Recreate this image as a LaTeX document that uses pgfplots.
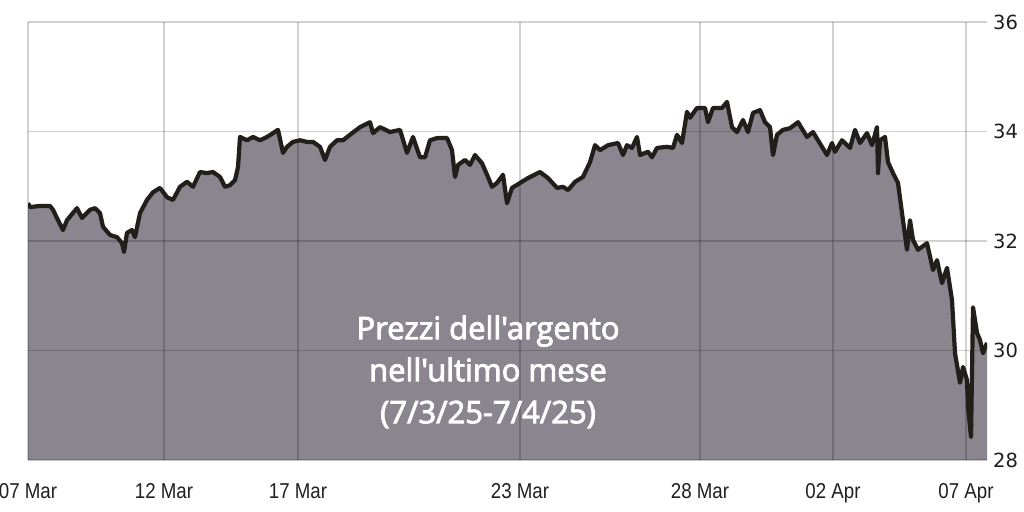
\documentclass[border=0pt]{standalone}
\usepackage{pgfplots}
\pgfplotsset{compat=1.18}
\usepackage{pgfplotstable}
\usepackage{fontspec}
\setmainfont{Liberation Sans}
\newfontfamily\tickfont[FakeStretch=0.87]{Liberation Sans}
\newfontfamily\yfont{DejaVu Sans}
\newfontfamily\notefont{Open Sans}
\newcommand{\heavy}[1]{\special{pdf:literal 2 Tr 0.9 w 1 1 1 RG}#1\special{pdf:literal 0 Tr}}
\definecolor{areac}{HTML}{8A858E}
\definecolor{linec}{HTML}{221E1A}
\pgfplotsset{
  layers/mylayers/.define layer set={axis background,pre main,axis grid,main,axis ticks,axis lines,axis tick labels,axis descriptions,axis foreground}{},
}
\pgfplotstableread{
x p
28 32.69
30 32.62
40 32.64
50 32.64
53 32.57
58 32.38
63 32.20
67 32.38
77 32.60
82 32.42
90 32.57
95 32.60
100 32.51
103 32.26
110 32.11
117 32.07
122 31.96
124 31.80
127 32.15
132 32.20
135 32.07
140 32.51
147 32.75
153 32.89
160 32.97
167 32.80
173 32.75
180 32.99
187 33.08
193 32.99
200 33.26
207 33.24
213 33.26
220 33.17
225 32.99
230 33.02
235 33.11
238 33.35
240 33.90
247 33.84
253 33.90
260 33.84
267 33.90
273 33.97
278 34.03
283 33.61
287 33.72
293 33.81
300 33.84
307 33.81
313 33.81
320 33.72
325 33.48
330 33.72
337 33.84
343 33.84
350 33.94
360 34.08
370 34.17
373 33.97
380 34.08
390 33.99
400 34.03
407 33.61
413 33.90
420 33.53
425 33.53
430 33.84
437 33.88
447 33.88
452 33.66
455 33.17
458 33.39
465 33.48
470 33.39
475 33.57
482 33.42
488 33.17
492 32.99
497 33.06
503 33.21
507 32.69
512 32.97
520 33.06
528 33.15
540 33.26
548 33.15
557 32.97
563 32.99
568 32.93
575 33.08
583 33.17
590 33.44
595 33.75
600 33.66
608 33.75
618 33.79
623 33.57
627 33.75
632 33.70
637 33.90
640 33.57
648 33.63
652 33.53
657 33.70
667 33.72
673 33.70
677 33.94
682 33.79
687 34.36
690 34.25
697 34.43
705 34.43
708 34.17
713 34.43
722 34.43
727 34.54
732 34.08
737 33.99
743 34.21
748 33.99
753 34.34
760 34.39
765 34.17
770 34.08
773 33.57
777 33.94
783 34.03
790 34.06
798 34.17
807 33.90
813 33.99
822 33.72
827 33.57
832 33.79
835 33.63
842 33.84
850 33.70
855 34.03
860 33.79
867 33.97
872 33.75
877 34.08
878 33.24
880 33.84
885 33.90
888 33.44
893 33.24
898 33.06
902 32.51
907 31.84
910 32.38
913 32.02
918 31.84
927 31.96
933 31.47
937 31.65
942 31.23
947 31.51
952 30.92
955 29.95
960 29.41
963 29.70
967 29.46
968 28.97
971 28.42
973 30.79
977 30.32
980 30.19
983 29.95
987 30.14
}\silver
\begin{document}
\begin{tikzpicture}
\begin{axis}[
  set layers=mylayers,
  at={(0,0)}, anchor=south west,
  scale only axis, width=959bp, height=438bp,
  xmin=28, xmax=987, ymin=28, ymax=36,
  axis line style={draw=none},
  grid=major,
  major grid style={black, opacity=0.18, line width=1.5bp},
  xtick={28,164,298,520,700,833,966},
  xticklabels={07 Mar,12 Mar,17 Mar,23 Mar,28 Mar,02 Apr,07 Apr},
  ytick={28,30,32,34,36},
  yticklabels={28,30,32,34,36},
  ytick pos=right,
  xtick pos=bottom,
  major tick length=0pt,
  xticklabel style={font=\tickfont\fontsize{21.5bp}{24bp}\selectfont, color=black!88, anchor=base, inner sep=0pt, yshift=-38bp},
  yticklabel style={font=\yfont\fontsize{19.5bp}{24bp}\selectfont, color=black!88, anchor=west, inner sep=0pt, xshift=6bp},
  clip=true,
]
\addplot[on layer=pre main, fill=areac, draw=none] table[x=x,y=p] {\silver} \closedcycle;
\addplot[linec, line width=4.2bp, line join=round] table[x=x,y=p] {\silver};
\node[align=center, text=white, font=\notefont\fontsize{31bp}{42bp}\selectfont] at (axis cs:488,29.61) {\heavy{Prezzi dell'argento}\\\heavy{nell'ultimo mese}\\\heavy{(7/3/25-7/4/25)}};
\end{axis}
\pgfresetboundingbox
\path[use as bounding box] (-28bp,-52bp) rectangle (996bp,460bp);
\end{tikzpicture}
\end{document}
